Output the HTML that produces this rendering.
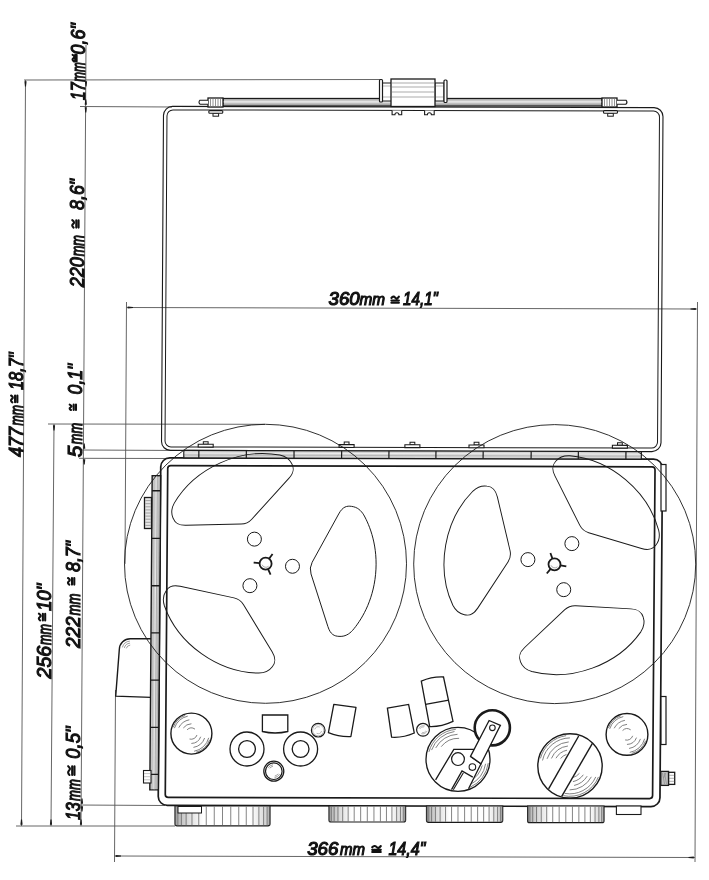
<!DOCTYPE html>
<html><head><meta charset="utf-8"><title>tape recorder drawing</title>
<style>
html,body{margin:0;padding:0;background:#fff;width:709px;height:880px;overflow:hidden}
svg{display:block;filter:grayscale(100%)}
text{font-family:"Liberation Sans",sans-serif;font-style:italic;font-weight:normal}
</style></head><body>
<svg width="709" height="880" viewBox="0 0 709 880">
<defs><linearGradient id="footg" x1="0" y1="0" x2="1" y2="0">
<stop offset="0" stop-color="#b0b0b0"/><stop offset="0.15" stop-color="#dedede"/><stop offset="0.3" stop-color="#fff"/><stop offset="0.8" stop-color="#fff"/><stop offset="0.95" stop-color="#d8d8d8"/><stop offset="1" stop-color="#c0c0c0"/>
</linearGradient></defs>
<rect width="709" height="880" fill="#fff"/>
<line x1="24" y1="80" x2="380" y2="79.5" stroke="#555" stroke-width="0.9"/>
<line x1="25.5" y1="80" x2="21.5" y2="826" stroke="#555" stroke-width="0.9"/>
<polygon points="26.60,81.20 24.40,81.20 24.95,86.50 26.05,86.50" fill="#1a1a1a"/>
<polygon points="20.40,824.80 22.60,824.80 22.05,819.50 20.95,819.50" fill="#1a1a1a"/>
<line x1="16" y1="826" x2="175" y2="826" stroke="#555" stroke-width="0.9"/>
<line x1="86" y1="45" x2="81" y2="826" stroke="#555" stroke-width="0.9"/>
<line x1="80" y1="106.5" x2="172" y2="107" stroke="#555" stroke-width="0.9"/>
<polygon points="87.10,81.20 84.90,81.20 85.45,86.50 86.55,86.50" fill="#1a1a1a"/>
<polygon points="84.70,104.80 86.90,104.80 86.35,99.50 85.25,99.50" fill="#1a1a1a"/>
<polygon points="86.90,107.20 84.70,107.20 85.25,112.50 86.35,112.50" fill="#1a1a1a"/>
<polygon points="83.10,448.80 85.30,448.80 84.75,443.50 83.65,443.50" fill="#1a1a1a"/>
<polygon points="85.30,459.20 83.10,459.20 83.65,464.50 84.75,464.50" fill="#1a1a1a"/>
<polygon points="80.90,803.80 83.10,803.80 82.55,798.50 81.45,798.50" fill="#1a1a1a"/>
<polygon points="83.10,806.20 80.90,806.20 81.45,811.50 82.55,811.50" fill="#1a1a1a"/>
<polygon points="79.90,824.80 82.10,824.80 81.55,819.50 80.45,819.50" fill="#1a1a1a"/>
<line x1="81" y1="450" x2="183" y2="450.5" stroke="#555" stroke-width="0.9"/>
<line x1="79" y1="458.3" x2="170" y2="458.5" stroke="#555" stroke-width="0.9"/>
<line x1="76" y1="805" x2="165" y2="805.5" stroke="#555" stroke-width="0.9"/>
<line x1="48" y1="424" x2="265" y2="424.3" stroke="#555" stroke-width="0.9"/>
<line x1="54" y1="424" x2="51" y2="826" stroke="#555" stroke-width="0.9"/>
<polygon points="55.10,425.20 52.90,425.20 53.45,430.50 54.55,430.50" fill="#1a1a1a"/>
<polygon points="49.90,824.80 52.10,824.80 51.55,819.50 50.45,819.50" fill="#1a1a1a"/>
<line x1="126.5" y1="302" x2="125" y2="564" stroke="#555" stroke-width="0.9"/>
<line x1="126.5" y1="307.5" x2="697" y2="309" stroke="#555" stroke-width="0.9"/>
<polygon points="127.70,306.40 127.70,308.60 133.00,308.05 133.00,306.95" fill="#1a1a1a"/>
<polygon points="695.80,310.10 695.80,307.90 690.50,308.45 690.50,309.55" fill="#1a1a1a"/>
<line x1="697.5" y1="302" x2="695" y2="862" stroke="#555" stroke-width="0.9"/>
<line x1="115.5" y1="690" x2="114.5" y2="862" stroke="#555" stroke-width="0.9"/>
<line x1="114.5" y1="856" x2="695" y2="857.5" stroke="#555" stroke-width="0.9"/>
<polygon points="115.70,854.90 115.70,857.10 121.00,856.55 121.00,855.45" fill="#1a1a1a"/>
<polygon points="693.80,858.60 693.80,856.40 688.50,856.95 688.50,858.05" fill="#1a1a1a"/>
<g transform="matrix(1,0.0025,-0.006,1,1.674,-1.030)">
<rect x="162.5" y="107" width="499.5" height="344" rx="9" fill="none" stroke="#1a1a1a" stroke-width="1.1"/>
<rect x="166" y="110.5" width="492.5" height="337" rx="6" fill="none" stroke="#1a1a1a" stroke-width="1.0"/>
</g>
<rect x="223" y="98.5" width="379" height="7.5" fill="#c8c8c8" stroke="#1a1a1a" stroke-width="1.3"/>
<line x1="223" y1="101.8" x2="602" y2="101.8" stroke="#eee" stroke-width="1.2"/>
<line x1="223" y1="104.3" x2="602" y2="104.3" stroke="#999" stroke-width="0.8"/>
<rect x="208" y="98" width="15" height="9" fill="#fff" stroke="#1a1a1a" stroke-width="1.3"/>
<line x1="210.5" y1="98.5" x2="210.5" y2="106.5" stroke="#777" stroke-width="0.8"/>
<line x1="213.0" y1="98.5" x2="213.0" y2="106.5" stroke="#777" stroke-width="0.8"/>
<line x1="215.5" y1="98.5" x2="215.5" y2="106.5" stroke="#777" stroke-width="0.8"/>
<line x1="218.0" y1="98.5" x2="218.0" y2="106.5" stroke="#777" stroke-width="0.8"/>
<line x1="220.5" y1="98.5" x2="220.5" y2="106.5" stroke="#777" stroke-width="0.8"/>
<rect x="602" y="98" width="15" height="9" fill="#fff" stroke="#1a1a1a" stroke-width="1.3"/>
<line x1="604.5" y1="98.5" x2="604.5" y2="106.5" stroke="#777" stroke-width="0.8"/>
<line x1="607.0" y1="98.5" x2="607.0" y2="106.5" stroke="#777" stroke-width="0.8"/>
<line x1="609.5" y1="98.5" x2="609.5" y2="106.5" stroke="#777" stroke-width="0.8"/>
<line x1="612.0" y1="98.5" x2="612.0" y2="106.5" stroke="#777" stroke-width="0.8"/>
<line x1="614.5" y1="98.5" x2="614.5" y2="106.5" stroke="#777" stroke-width="0.8"/>
<path d="M208,100.2 L200,100.2 Q198,102.2 200,104.2 L208,104.2" fill="#fff" stroke="#1a1a1a" stroke-width="1.1"/>
<path d="M617,100.2 L626,100.2 Q628,102.2 626,104.2 L617,104.2" fill="#fff" stroke="#1a1a1a" stroke-width="1.1"/>
<rect x="213.00" y="113.2" width="5.6" height="3" fill="#fff" stroke="#1a1a1a" stroke-width="1"/>
<rect x="208.80" y="110.6" width="14" height="2.6" rx="1" fill="#fff" stroke="#1a1a1a" stroke-width="1.1"/>
<rect x="607.70" y="113.2" width="5.6" height="3" fill="#fff" stroke="#1a1a1a" stroke-width="1"/>
<rect x="603.50" y="110.6" width="14" height="2.6" rx="1" fill="#fff" stroke="#1a1a1a" stroke-width="1.1"/>
<rect x="382.5" y="83" width="9" height="18" fill="#fff" stroke="#1a1a1a" stroke-width="1"/>
<rect x="435" y="83" width="9" height="18" fill="#fff" stroke="#1a1a1a" stroke-width="1"/>
<line x1="383" y1="86" x2="391" y2="86" stroke="#9a9a9a" stroke-width="0.7"/>
<line x1="383" y1="97" x2="391" y2="97" stroke="#9a9a9a" stroke-width="0.7"/>
<line x1="436" y1="86" x2="443" y2="86" stroke="#9a9a9a" stroke-width="0.7"/>
<line x1="436" y1="97" x2="443" y2="97" stroke="#9a9a9a" stroke-width="0.7"/>
<rect x="379.5" y="79.5" width="3" height="22.5" rx="1" fill="#fff" stroke="#1a1a1a" stroke-width="1.2"/>
<rect x="444" y="80" width="3" height="22.5" rx="1" fill="#fff" stroke="#1a1a1a" stroke-width="1.2"/>
<rect x="391" y="79" width="44" height="27.5" fill="#fff" stroke="#1a1a1a" stroke-width="1.3"/>
<line x1="392" y1="83" x2="434" y2="83" stroke="#888" stroke-width="0.7"/>
<line x1="392" y1="87" x2="434" y2="87" stroke="#888" stroke-width="0.7"/>
<line x1="392" y1="92" x2="434" y2="92" stroke="#888" stroke-width="0.7"/>
<line x1="392" y1="97" x2="434" y2="97" stroke="#888" stroke-width="0.7"/>
<path d="M392.09999999999997,110.6 L392.09999999999997,114.7 L394.9,114.7 A2,2 0 0 1 398.9,114.7 L401.7,114.7 L401.7,110.6" fill="#fff" stroke="#1a1a1a" stroke-width="1.1"/>
<path d="M424.59999999999997,110.6 L424.59999999999997,114.7 L427.4,114.7 A2,2 0 0 1 431.4,114.7 L434.2,114.7 L434.2,110.6" fill="#fff" stroke="#1a1a1a" stroke-width="1.1"/>
<path d="M151,638.7 L130.6,638.7 A11,11 0 0 0 119.3,649.6 L115.7,696.2 L151,697.4" fill="#fff" stroke="#1a1a1a" stroke-width="1.4"/>
<path d="M126.25,648.44 A4.5,4.5 0 0 1 130.21,645.12" fill="none" stroke="#777" stroke-width="0.7"/>
<path d="M124.32,647.92 A6.5,6.5 0 0 1 130.03,643.12" fill="none" stroke="#777" stroke-width="0.7"/>
<path d="M122.39,647.40 A8.5,8.5 0 0 1 129.86,641.13" fill="none" stroke="#777" stroke-width="0.7"/>
<g transform="matrix(1,0.0025,-0.0075,1,4.740,-1.025)">
<rect x="159.5" y="458.5" width="501.7" height="347.5" rx="9" fill="#fff" stroke="#1a1a1a" stroke-width="1.7"/>
<rect x="166.5" y="466.2" width="487.3" height="331.8" rx="3" fill="none" stroke="#1a1a1a" stroke-width="1.7"/>
<rect x="182.5" y="451" width="457.5" height="7.5" fill="#d4d4d4" stroke="#1a1a1a" stroke-width="1.2"/>
<line x1="183" y1="453.6" x2="639.5" y2="453.6" stroke="#f2f2f2" stroke-width="0.8"/>
<line x1="183" y1="455.6" x2="639.5" y2="455.6" stroke="#aaa" stroke-width="0.7"/>
<line x1="197.5" y1="451" x2="197.5" y2="458.5" stroke="#1a1a1a" stroke-width="1.2"/>
<line x1="245" y1="451" x2="245" y2="458.5" stroke="#1a1a1a" stroke-width="1.2"/>
<line x1="292.7" y1="451" x2="292.7" y2="458.5" stroke="#1a1a1a" stroke-width="1.2"/>
<line x1="340.3" y1="451" x2="340.3" y2="458.5" stroke="#1a1a1a" stroke-width="1.2"/>
<line x1="387.6" y1="451" x2="387.6" y2="458.5" stroke="#1a1a1a" stroke-width="1.2"/>
<line x1="434.6" y1="451" x2="434.6" y2="458.5" stroke="#1a1a1a" stroke-width="1.2"/>
<line x1="481.8" y1="451" x2="481.8" y2="458.5" stroke="#1a1a1a" stroke-width="1.2"/>
<line x1="529.8" y1="451" x2="529.8" y2="458.5" stroke="#1a1a1a" stroke-width="1.2"/>
<line x1="577" y1="451" x2="577" y2="458.5" stroke="#1a1a1a" stroke-width="1.2"/>
<line x1="624.6" y1="451" x2="624.6" y2="458.5" stroke="#1a1a1a" stroke-width="1.2"/>
<rect x="201.90" y="442.2" width="4.8" height="2.6" fill="#fff" stroke="#1a1a1a" stroke-width="1"/>
<rect x="196.80" y="444.8" width="15" height="2.8" fill="#fff" stroke="#1a1a1a" stroke-width="1.1"/>
<rect x="342.80" y="442.2" width="4.8" height="2.6" fill="#fff" stroke="#1a1a1a" stroke-width="1"/>
<rect x="337.70" y="444.8" width="15" height="2.8" fill="#fff" stroke="#1a1a1a" stroke-width="1.1"/>
<rect x="408.60" y="442.2" width="4.8" height="2.6" fill="#fff" stroke="#1a1a1a" stroke-width="1"/>
<rect x="403.50" y="444.8" width="15" height="2.8" fill="#fff" stroke="#1a1a1a" stroke-width="1.1"/>
<rect x="472.70" y="442.2" width="4.8" height="2.6" fill="#fff" stroke="#1a1a1a" stroke-width="1"/>
<rect x="467.60" y="444.8" width="15" height="2.8" fill="#fff" stroke="#1a1a1a" stroke-width="1.1"/>
<rect x="616.10" y="442.2" width="4.8" height="2.6" fill="#fff" stroke="#1a1a1a" stroke-width="1"/>
<rect x="611.00" y="444.8" width="15" height="2.8" fill="#fff" stroke="#1a1a1a" stroke-width="1.1"/>
<rect x="151" y="476.4" width="8.5" height="314.1" fill="#cfcfcf" stroke="#1a1a1a" stroke-width="1.4"/>
<line x1="155.2" y1="477" x2="155.2" y2="790" stroke="#eee" stroke-width="0.8"/>
<line x1="156.2" y1="477" x2="156.2" y2="790" stroke="#999" stroke-width="0.6"/>
<line x1="153" y1="477" x2="153" y2="790" stroke="#aaa" stroke-width="0.6"/>
<line x1="158" y1="477" x2="158" y2="790" stroke="#999" stroke-width="0.6"/>
<line x1="151" y1="491.4" x2="159.5" y2="491.4" stroke="#1a1a1a" stroke-width="1.3"/>
<line x1="151" y1="539" x2="159.5" y2="539" stroke="#1a1a1a" stroke-width="1.3"/>
<line x1="151" y1="586.4" x2="159.5" y2="586.4" stroke="#1a1a1a" stroke-width="1.3"/>
<line x1="151" y1="633.6" x2="159.5" y2="633.6" stroke="#1a1a1a" stroke-width="1.3"/>
<line x1="151" y1="680.7" x2="159.5" y2="680.7" stroke="#1a1a1a" stroke-width="1.3"/>
<line x1="151" y1="728" x2="159.5" y2="728" stroke="#1a1a1a" stroke-width="1.3"/>
<line x1="151" y1="775" x2="159.5" y2="775" stroke="#1a1a1a" stroke-width="1.3"/>
</g>
<rect x="144.5" y="497.5" width="7" height="31" fill="#e6e6e6" stroke="#1a1a1a" stroke-width="1.3"/>
<line x1="145.2" y1="500.6" x2="150.8" y2="500.6" stroke="#999" stroke-width="0.9"/>
<line x1="145.2" y1="503.7" x2="150.8" y2="503.7" stroke="#999" stroke-width="0.9"/>
<line x1="145.2" y1="506.8" x2="150.8" y2="506.8" stroke="#999" stroke-width="0.9"/>
<line x1="145.2" y1="509.9" x2="150.8" y2="509.9" stroke="#999" stroke-width="0.9"/>
<line x1="145.2" y1="513.0" x2="150.8" y2="513.0" stroke="#999" stroke-width="0.9"/>
<line x1="145.2" y1="516.1" x2="150.8" y2="516.1" stroke="#999" stroke-width="0.9"/>
<line x1="145.2" y1="519.2" x2="150.8" y2="519.2" stroke="#999" stroke-width="0.9"/>
<line x1="145.2" y1="522.3" x2="150.8" y2="522.3" stroke="#999" stroke-width="0.9"/>
<line x1="145.2" y1="525.4" x2="150.8" y2="525.4" stroke="#999" stroke-width="0.9"/>
<rect x="143.5" y="770.5" width="7.5" height="12.5" fill="#fff" stroke="#1a1a1a" stroke-width="1.1"/>
<line x1="144" y1="773.6" x2="150.5" y2="773.6" stroke="#999" stroke-width="0.6"/>
<line x1="144" y1="776.7" x2="150.5" y2="776.7" stroke="#999" stroke-width="0.6"/>
<line x1="144" y1="779.8" x2="150.5" y2="779.8" stroke="#999" stroke-width="0.6"/>
<rect x="661" y="464.5" width="5" height="46.5" fill="#fff" stroke="#1a1a1a" stroke-width="1.2"/>
<rect x="661" y="696.5" width="5" height="48" fill="#fff" stroke="#1a1a1a" stroke-width="1.2"/>
<rect x="668.5" y="772.3" width="6.2" height="12.1" fill="#fff" stroke="#1a1a1a" stroke-width="1.3"/>
<line x1="669" y1="775.3" x2="674.2" y2="775.3" stroke="#999" stroke-width="0.8"/>
<line x1="669" y1="778.3" x2="674.2" y2="778.3" stroke="#999" stroke-width="0.8"/>
<line x1="669" y1="781.3" x2="674.2" y2="781.3" stroke="#999" stroke-width="0.8"/>
<rect x="660.8" y="771.4" width="7.7" height="14" fill="#c2c2c2" stroke="#1a1a1a" stroke-width="1.3"/>
<path d="M662.5,773 L664.5,784 M664.5,773 L666.5,784 M663.5,778 L665.8,773" stroke="#888" stroke-width="0.7" fill="none"/>
<path d="M175,806 L270,806 L270,823.8 Q270,825.8 268,825.8 L177,825.8 Q175,825.8 175,823.8 Z" fill="url(#footg)" stroke="#1a1a1a" stroke-width="1.2"/>
<line x1="175.72" y1="806.5" x2="175.72" y2="825.3" stroke="#666" stroke-width="0.8"/>
<line x1="177.86" y1="806.5" x2="177.86" y2="825.3" stroke="#666" stroke-width="0.8"/>
<line x1="181.36" y1="806.5" x2="181.36" y2="825.3" stroke="#666" stroke-width="0.8"/>
<line x1="186.11" y1="806.5" x2="186.11" y2="825.3" stroke="#666" stroke-width="0.8"/>
<line x1="191.97" y1="806.5" x2="191.97" y2="825.3" stroke="#666" stroke-width="0.8"/>
<line x1="198.75" y1="806.5" x2="198.75" y2="825.3" stroke="#666" stroke-width="0.8"/>
<line x1="206.25" y1="806.5" x2="206.25" y2="825.3" stroke="#666" stroke-width="0.8"/>
<line x1="214.25" y1="806.5" x2="214.25" y2="825.3" stroke="#666" stroke-width="0.8"/>
<line x1="222.5" y1="806.5" x2="222.5" y2="825.3" stroke="#666" stroke-width="0.8"/>
<line x1="230.75" y1="806.5" x2="230.75" y2="825.3" stroke="#666" stroke-width="0.8"/>
<line x1="238.75" y1="806.5" x2="238.75" y2="825.3" stroke="#666" stroke-width="0.8"/>
<line x1="246.25" y1="806.5" x2="246.25" y2="825.3" stroke="#666" stroke-width="0.8"/>
<line x1="253.03" y1="806.5" x2="253.03" y2="825.3" stroke="#666" stroke-width="0.8"/>
<line x1="258.89" y1="806.5" x2="258.89" y2="825.3" stroke="#666" stroke-width="0.8"/>
<line x1="263.64" y1="806.5" x2="263.64" y2="825.3" stroke="#666" stroke-width="0.8"/>
<line x1="267.14" y1="806.5" x2="267.14" y2="825.3" stroke="#666" stroke-width="0.8"/>
<line x1="269.28" y1="806.5" x2="269.28" y2="825.3" stroke="#666" stroke-width="0.8"/>
<rect x="178" y="806.5" width="23.5" height="6.5" fill="#fff" stroke="#1a1a1a" stroke-width="1"/>
<path d="M329,806 L405.6,806 L405.6,820 Q405.6,822 403.6,822 L331,822 Q329,822 329,820 Z" fill="url(#footg)" stroke="#1a1a1a" stroke-width="1.2"/>
<line x1="329.58" y1="806.5" x2="329.58" y2="821.5" stroke="#666" stroke-width="0.8"/>
<line x1="331.31" y1="806.5" x2="331.31" y2="821.5" stroke="#666" stroke-width="0.8"/>
<line x1="334.13" y1="806.5" x2="334.13" y2="821.5" stroke="#666" stroke-width="0.8"/>
<line x1="337.96" y1="806.5" x2="337.96" y2="821.5" stroke="#666" stroke-width="0.8"/>
<line x1="342.68" y1="806.5" x2="342.68" y2="821.5" stroke="#666" stroke-width="0.8"/>
<line x1="348.15" y1="806.5" x2="348.15" y2="821.5" stroke="#666" stroke-width="0.8"/>
<line x1="354.2" y1="806.5" x2="354.2" y2="821.5" stroke="#666" stroke-width="0.8"/>
<line x1="360.65" y1="806.5" x2="360.65" y2="821.5" stroke="#666" stroke-width="0.8"/>
<line x1="367.3" y1="806.5" x2="367.3" y2="821.5" stroke="#666" stroke-width="0.8"/>
<line x1="373.95" y1="806.5" x2="373.95" y2="821.5" stroke="#666" stroke-width="0.8"/>
<line x1="380.4" y1="806.5" x2="380.4" y2="821.5" stroke="#666" stroke-width="0.8"/>
<line x1="386.45" y1="806.5" x2="386.45" y2="821.5" stroke="#666" stroke-width="0.8"/>
<line x1="391.92" y1="806.5" x2="391.92" y2="821.5" stroke="#666" stroke-width="0.8"/>
<line x1="396.64" y1="806.5" x2="396.64" y2="821.5" stroke="#666" stroke-width="0.8"/>
<line x1="400.47" y1="806.5" x2="400.47" y2="821.5" stroke="#666" stroke-width="0.8"/>
<line x1="403.29" y1="806.5" x2="403.29" y2="821.5" stroke="#666" stroke-width="0.8"/>
<line x1="405.02" y1="806.5" x2="405.02" y2="821.5" stroke="#666" stroke-width="0.8"/>
<path d="M426.5,806 L502.7,806 L502.7,820.3 Q502.7,822.3 500.7,822.3 L428.5,822.3 Q426.5,822.3 426.5,820.3 Z" fill="url(#footg)" stroke="#1a1a1a" stroke-width="1.2"/>
<line x1="427.08" y1="806.5" x2="427.08" y2="821.8" stroke="#666" stroke-width="0.8"/>
<line x1="428.8" y1="806.5" x2="428.8" y2="821.8" stroke="#666" stroke-width="0.8"/>
<line x1="431.6" y1="806.5" x2="431.6" y2="821.8" stroke="#666" stroke-width="0.8"/>
<line x1="435.41" y1="806.5" x2="435.41" y2="821.8" stroke="#666" stroke-width="0.8"/>
<line x1="440.11" y1="806.5" x2="440.11" y2="821.8" stroke="#666" stroke-width="0.8"/>
<line x1="445.55" y1="806.5" x2="445.55" y2="821.8" stroke="#666" stroke-width="0.8"/>
<line x1="451.57" y1="806.5" x2="451.57" y2="821.8" stroke="#666" stroke-width="0.8"/>
<line x1="457.98" y1="806.5" x2="457.98" y2="821.8" stroke="#666" stroke-width="0.8"/>
<line x1="464.6" y1="806.5" x2="464.6" y2="821.8" stroke="#666" stroke-width="0.8"/>
<line x1="471.22" y1="806.5" x2="471.22" y2="821.8" stroke="#666" stroke-width="0.8"/>
<line x1="477.63" y1="806.5" x2="477.63" y2="821.8" stroke="#666" stroke-width="0.8"/>
<line x1="483.65" y1="806.5" x2="483.65" y2="821.8" stroke="#666" stroke-width="0.8"/>
<line x1="489.09" y1="806.5" x2="489.09" y2="821.8" stroke="#666" stroke-width="0.8"/>
<line x1="493.79" y1="806.5" x2="493.79" y2="821.8" stroke="#666" stroke-width="0.8"/>
<line x1="497.6" y1="806.5" x2="497.6" y2="821.8" stroke="#666" stroke-width="0.8"/>
<line x1="500.4" y1="806.5" x2="500.4" y2="821.8" stroke="#666" stroke-width="0.8"/>
<line x1="502.12" y1="806.5" x2="502.12" y2="821.8" stroke="#666" stroke-width="0.8"/>
<path d="M527.6,806 L604,806 L604,820.7 Q604,822.7 602,822.7 L529.6,822.7 Q527.6,822.7 527.6,820.7 Z" fill="url(#footg)" stroke="#1a1a1a" stroke-width="1.2"/>
<line x1="528.18" y1="806.5" x2="528.18" y2="822.2" stroke="#666" stroke-width="0.8"/>
<line x1="529.9" y1="806.5" x2="529.9" y2="822.2" stroke="#666" stroke-width="0.8"/>
<line x1="532.72" y1="806.5" x2="532.72" y2="822.2" stroke="#666" stroke-width="0.8"/>
<line x1="536.54" y1="806.5" x2="536.54" y2="822.2" stroke="#666" stroke-width="0.8"/>
<line x1="541.25" y1="806.5" x2="541.25" y2="822.2" stroke="#666" stroke-width="0.8"/>
<line x1="546.7" y1="806.5" x2="546.7" y2="822.2" stroke="#666" stroke-width="0.8"/>
<line x1="552.73" y1="806.5" x2="552.73" y2="822.2" stroke="#666" stroke-width="0.8"/>
<line x1="559.17" y1="806.5" x2="559.17" y2="822.2" stroke="#666" stroke-width="0.8"/>
<line x1="565.8" y1="806.5" x2="565.8" y2="822.2" stroke="#666" stroke-width="0.8"/>
<line x1="572.43" y1="806.5" x2="572.43" y2="822.2" stroke="#666" stroke-width="0.8"/>
<line x1="578.87" y1="806.5" x2="578.87" y2="822.2" stroke="#666" stroke-width="0.8"/>
<line x1="584.9" y1="806.5" x2="584.9" y2="822.2" stroke="#666" stroke-width="0.8"/>
<line x1="590.35" y1="806.5" x2="590.35" y2="822.2" stroke="#666" stroke-width="0.8"/>
<line x1="595.06" y1="806.5" x2="595.06" y2="822.2" stroke="#666" stroke-width="0.8"/>
<line x1="598.88" y1="806.5" x2="598.88" y2="822.2" stroke="#666" stroke-width="0.8"/>
<line x1="601.7" y1="806.5" x2="601.7" y2="822.2" stroke="#666" stroke-width="0.8"/>
<line x1="603.42" y1="806.5" x2="603.42" y2="822.2" stroke="#666" stroke-width="0.8"/>
<rect x="616.4" y="806" width="24.6" height="8.5" fill="#fff" stroke="#1a1a1a" stroke-width="1.1"/>
<ellipse cx="265.5" cy="563.8000000000001" rx="141" ry="139.5" fill="none" stroke="#1a1a1a" stroke-width="0.9"/>
<path d="M46.2,5.86 A15,15 0 0 1 46.2,-5.86 L68,-56.5 C71.4,-64.5 75.5,-65.5 80,-65.3 C86,-65.2 90,-62 93,-58 C100,-48 110.5,-28 110.5,0 C110.5,28 100,48 93,58 C90,62 86,65.2 80,65.3 C75.5,65.5 71.4,64.5 68,56.5 Z" transform="translate(265.6,563.7) rotate(5.5)" fill="none" stroke="#1a1a1a" stroke-width="0.95"/>
<circle cx="292.48" cy="566.29" r="7" fill="none" stroke="#1a1a1a" stroke-width="1.0"/>
<line x1="268.09" y1="569.16" x2="270.58" y2="574.62" stroke="#1a1a1a" stroke-width="1.8"/>
<path d="M46.2,5.86 A15,15 0 0 1 46.2,-5.86 L68,-56.5 C71.4,-64.5 75.5,-65.5 80,-65.3 C86,-65.2 90,-62 93,-58 C100,-48 110.5,-28 110.5,0 C110.5,28 100,48 93,58 C90,62 86,65.2 80,65.3 C75.5,65.5 71.4,64.5 68,56.5 Z" transform="translate(265.6,563.7) rotate(125.5)" fill="none" stroke="#1a1a1a" stroke-width="0.95"/>
<circle cx="249.92" cy="585.68" r="7" fill="none" stroke="#1a1a1a" stroke-width="1.0"/>
<line x1="259.63" y1="563.12" x2="253.66" y2="562.55" stroke="#1a1a1a" stroke-width="1.8"/>
<path d="M46.2,5.86 A15,15 0 0 1 46.2,-5.86 L68,-56.5 C71.4,-64.5 75.5,-65.5 80,-65.3 C86,-65.2 90,-62 93,-58 C100,-48 110.5,-28 110.5,0 C110.5,28 100,48 93,58 C90,62 86,65.2 80,65.3 C75.5,65.5 71.4,64.5 68,56.5 Z" transform="translate(265.6,563.7) rotate(245.5)" fill="none" stroke="#1a1a1a" stroke-width="0.95"/>
<circle cx="254.40" cy="539.13" r="7" fill="none" stroke="#1a1a1a" stroke-width="1.0"/>
<line x1="269.08" y1="558.82" x2="272.57" y2="553.93" stroke="#1a1a1a" stroke-width="1.8"/>
<circle cx="265.6" cy="563.7" r="6" fill="none" stroke="#1a1a1a" stroke-width="1.8"/>
<path d="M262.1,564.7 A4,4 0 0 0 268.6,566.2" fill="none" stroke="#888" stroke-width="0.7"/>
<ellipse cx="554.7" cy="564.0999999999999" rx="141" ry="139.5" fill="none" stroke="#1a1a1a" stroke-width="0.9"/>
<path d="M46.2,5.86 A15,15 0 0 1 46.2,-5.86 L68,-56.5 C71.4,-64.5 75.5,-65.5 80,-65.3 C86,-65.2 90,-62 93,-58 C100,-48 110.5,-28 110.5,0 C110.5,28 100,48 93,58 C90,62 86,65.2 80,65.3 C75.5,65.5 71.4,64.5 68,56.5 Z" transform="translate(554.5,564.3) rotate(190)" fill="none" stroke="#1a1a1a" stroke-width="0.95"/>
<circle cx="527.91" cy="559.61" r="7" fill="none" stroke="#1a1a1a" stroke-width="1.0"/>
<line x1="560.41" y1="565.34" x2="566.32" y2="566.38" stroke="#1a1a1a" stroke-width="1.8"/>
<path d="M46.2,5.86 A15,15 0 0 1 46.2,-5.86 L68,-56.5 C71.4,-64.5 75.5,-65.5 80,-65.3 C86,-65.2 90,-62 93,-58 C100,-48 110.5,-28 110.5,0 C110.5,28 100,48 93,58 C90,62 86,65.2 80,65.3 C75.5,65.5 71.4,64.5 68,56.5 Z" transform="translate(554.5,564.3) rotate(310)" fill="none" stroke="#1a1a1a" stroke-width="0.95"/>
<circle cx="571.86" cy="543.62" r="7" fill="none" stroke="#1a1a1a" stroke-width="1.0"/>
<line x1="550.64" y1="568.90" x2="546.79" y2="573.49" stroke="#1a1a1a" stroke-width="1.8"/>
<path d="M46.2,5.86 A15,15 0 0 1 46.2,-5.86 L68,-56.5 C71.4,-64.5 75.5,-65.5 80,-65.3 C86,-65.2 90,-62 93,-58 C100,-48 110.5,-28 110.5,0 C110.5,28 100,48 93,58 C90,62 86,65.2 80,65.3 C75.5,65.5 71.4,64.5 68,56.5 Z" transform="translate(554.5,564.3) rotate(430)" fill="none" stroke="#1a1a1a" stroke-width="0.95"/>
<circle cx="563.73" cy="589.67" r="7" fill="none" stroke="#1a1a1a" stroke-width="1.0"/>
<line x1="552.45" y1="558.66" x2="550.40" y2="553.02" stroke="#1a1a1a" stroke-width="1.8"/>
<circle cx="554.5" cy="564.3" r="6" fill="none" stroke="#1a1a1a" stroke-width="1.8"/>
<path d="M551.0,565.3 A4,4 0 0 0 557.5,566.8" fill="none" stroke="#888" stroke-width="0.7"/>
<circle cx="191.4" cy="733.6" r="20.5" fill="none" stroke="#1a1a1a" stroke-width="1.4"/>
<path d="M187.34,729.54 A5.74,5.74 0 0 1 194.69,728.90 M183.54,727.68 A9.84,9.84 0 0 1 191.06,723.77 M178.98,727.27 A13.94,13.94 0 0 1 188.98,719.87 M174.54,727.79 A17.84,17.84 0 0 1 187.39,716.22 M173.29,727.01 A19.27,19.27 0 0 1 184.81,715.49 M196.86,735.37 A5.74,5.74 0 0 1 189.91,739.14 M200.59,737.13 A9.84,9.84 0 0 1 191.74,743.43 M204.50,738.37 A13.94,13.94 0 0 1 193.82,747.33 M208.63,738.22 A17.84,17.84 0 0 1 194.50,751.16 M209.51,740.19 A19.27,19.27 0 0 1 196.39,752.21" fill="none" stroke="#6a6a6a" stroke-width="0.85" stroke-linecap="round"/>
<circle cx="627" cy="734.4" r="20.9" fill="none" stroke="#1a1a1a" stroke-width="1.4"/>
<path d="M622.86,730.26 A5.85,5.85 0 0 1 630.36,729.61 M618.99,728.36 A10.03,10.03 0 0 1 626.65,724.37 M614.34,727.95 A14.21,14.21 0 0 1 624.53,720.40 M609.81,728.48 A18.18,18.18 0 0 1 622.91,716.68 M608.54,727.68 A19.65,19.65 0 0 1 620.28,715.94 M632.57,736.21 A5.85,5.85 0 0 1 625.49,740.05 M636.37,738.00 A10.03,10.03 0 0 1 627.35,744.43 M640.35,739.26 A14.21,14.21 0 0 1 629.47,748.40 M644.56,739.11 A18.18,18.18 0 0 1 630.16,752.31 M645.46,741.12 A19.65,19.65 0 0 1 632.08,753.38" fill="none" stroke="#6a6a6a" stroke-width="0.85" stroke-linecap="round"/>
<circle cx="247" cy="749" r="17" fill="none" stroke="#1a1a1a" stroke-width="1.3"/>
<circle cx="247" cy="749" r="8.4" fill="none" stroke="#1a1a1a" stroke-width="1.3"/>
<circle cx="300.6" cy="749" r="17" fill="none" stroke="#1a1a1a" stroke-width="1.3"/>
<circle cx="300.6" cy="749" r="8.4" fill="none" stroke="#1a1a1a" stroke-width="1.3"/>
<circle cx="273.8" cy="771.2" r="10" fill="none" stroke="#1a1a1a" stroke-width="1.3"/>
<circle cx="273.8" cy="771.2" r="8.3" fill="none" stroke="#1a1a1a" stroke-width="1.2"/>
<path d="M268.48,767.47 A6.50,6.50 0 0 1 272.67,764.80 M269.97,767.99 A5.00,5.00 0 0 1 272.51,766.37 M279.43,774.45 A6.50,6.50 0 0 1 274.93,777.60 M277.90,774.07 A5.00,5.00 0 0 1 275.09,776.03" fill="none" stroke="#888" stroke-width="0.8" stroke-linecap="round"/>
<path d="M262.4,715 L287.8,715 L287.8,731.5 Q275,734.5 262.4,731.5 Z" fill="none" stroke="#1a1a1a" stroke-width="1.3"/>
<circle cx="318.2" cy="730.2" r="6.8" fill="none" stroke="#1a1a1a" stroke-width="1.2"/>
<circle cx="318.2" cy="730.2" r="5.6" fill="none" stroke="#999" stroke-width="0.7"/>
<path d="M314.91,729.00 A3.50,3.50 0 0 1 319.40,726.91 M321.49,731.40 A3.50,3.50 0 0 1 317.00,733.49" fill="none" stroke="#999" stroke-width="0.7" stroke-linecap="round"/>
<path d="M333.8,704.3 L356,707.4 L350.9,736.5 Q339,737 328.4,732.6 Z" fill="none" stroke="#1a1a1a" stroke-width="1.3" stroke-linejoin="round"/>
<path d="M387.4,708.2 L408.6,704.4 L414.3,733 Q403,738 391.6,737.2 Z" fill="none" stroke="#1a1a1a" stroke-width="1.3"/>
<path d="M421.3,681.2 Q432,676.5 443.5,677 L453,721.4 Q441,727 429.7,726.6 Z" fill="none" stroke="#1a1a1a" stroke-width="1.3"/>
<line x1="425.5" y1="704.4" x2="448.8" y2="700.2" stroke="#1a1a1a" stroke-width="1.2"/>
<circle cx="423" cy="729.8" r="6.4" fill="none" stroke="#1a1a1a" stroke-width="1.2"/>
<path d="M419.05,728.36 A4.20,4.20 0 0 1 424.44,725.85 M420.40,728.30 A3.00,3.00 0 0 1 423.52,726.85 M426.95,731.24 A4.20,4.20 0 0 1 421.56,733.75 M425.60,731.30 A3.00,3.00 0 0 1 422.48,732.75" fill="none" stroke="#999" stroke-width="0.7" stroke-linecap="round"/>
<circle cx="458" cy="759.3" r="32" fill="#fff" stroke="#1a1a1a" stroke-width="1.3"/>
<path d="M429.02,751.54 A30.00,30.00 0 0 1 455.39,729.41 M431.69,749.72 A28.00,28.00 0 0 1 454.10,731.57 M435.93,747.56 A25.00,25.00 0 0 1 457.13,734.32 M441.45,746.37 A21.00,21.00 0 0 1 458.73,738.31 M488.20,763.54 A30.50,30.50 0 0 1 470.41,787.16 M485.57,764.16 A28.00,28.00 0 0 1 470.27,784.47 M482.15,765.77 A25.00,25.00 0 0 1 469.74,781.37" fill="none" stroke="#6a6a6a" stroke-width="0.85" stroke-linecap="round"/>
<circle cx="492.3" cy="727.8" r="17.6" fill="#fff" stroke="#1a1a1a" stroke-width="2.6"/>
<path d="M435.6,779.9 L453.8,749.3 L474.6,749.3 L470.5,756.4 L481,763.8 L468.5,788.8 L451.5,789.8 Z" fill="#fff" stroke="none"/>
<path d="M435.6,779.9 L453.8,749.3 L474.6,749.3 M470.5,756.4 L481,763.8 L468.5,788.8" fill="none" stroke="#1a1a1a" stroke-width="1.3" stroke-linejoin="miter"/>
<path d="M472.8,777.1 L462,770.9 L451.5,789.6" fill="none" stroke="#1a1a1a" stroke-width="1.3"/>
<line x1="463.4" y1="772.8" x2="453.3" y2="789.8" stroke="#1a1a1a" stroke-width="1.1"/>
<path d="M489.1,720.5 L500.4,725.4 L481,763.8 L470.5,756.4 Z" fill="#fff" stroke="#1a1a1a" stroke-width="1.3"/>
<circle cx="492.4" cy="727.8" r="2.8" fill="none" stroke="#1a1a1a" stroke-width="1.1"/>
<circle cx="458" cy="759.1" r="6.4" fill="none" stroke="#1a1a1a" stroke-width="1.2"/>
<circle cx="472.4" cy="767.1" r="3.3" fill="none" stroke="#1a1a1a" stroke-width="1.1"/>
<circle cx="570" cy="765.9" r="32.2" fill="none" stroke="#1a1a1a" stroke-width="1.4"/>
<path d="M560.81,758.19 A12.00,12.00 0 0 1 566.09,754.55 M556.14,757.90 A16.00,16.00 0 0 1 566.67,750.25 M551.59,758.09 A20.00,20.00 0 0 1 567.56,746.05 M547.17,758.48 A24.00,24.00 0 0 1 568.33,741.96 M542.61,760.08 A28.00,28.00 0 0 1 569.51,737.90 M540.54,758.01 A30.50,30.50 0 0 1 565.76,735.70 M579.19,773.61 A12.00,12.00 0 0 1 573.11,777.49 M583.11,775.08 A16.00,16.00 0 0 1 573.33,781.55 M586.96,776.50 A20.00,20.00 0 0 1 574.50,785.39 M591.19,777.17 A24.00,24.00 0 0 1 570.00,789.90 M595.58,777.29 A28.00,28.00 0 0 1 565.14,793.47 M598.28,777.33 A30.50,30.50 0 0 1 563.66,795.73" fill="none" stroke="#6a6a6a" stroke-width="0.85" stroke-linecap="round"/>
<line x1="578.7" y1="736" x2="548.6" y2="788.9" stroke="#1a1a1a" stroke-width="1.4"/>
<line x1="592.4" y1="743.4" x2="561.7" y2="796.3" stroke="#1a1a1a" stroke-width="1.4"/>
<g fill="#111" stroke="#111" stroke-width="1.15">
<g transform="translate(84.6,0) rotate(-90)">
<text x="-100.20" y="0" font-size="21" textLength="17.80" lengthAdjust="spacingAndGlyphs">17</text>
<text x="-81.80" y="0" font-size="18.5" textLength="19.40" lengthAdjust="spacingAndGlyphs">mm</text>
<path d="M-61.40,-10.70 Q-59.64,-13.20 -58.15,-11.10 T-54.90,-12.00 M-61.40,-9.40 L-54.90,-9.40 M-61.40,-8.00 L-54.90,-8.00" fill="none" stroke="#111" stroke-width="2.1" stroke-linecap="round"/>
<text x="-54.40" y="0" font-size="21" textLength="31.30" lengthAdjust="spacingAndGlyphs">0,6&quot;</text>
</g>
<g transform="translate(84.4,0) rotate(-90)">
<text x="-287.30" y="0" font-size="21" textLength="30.20" lengthAdjust="spacingAndGlyphs">220</text>
<text x="-256.30" y="0" font-size="18.5" textLength="21.30" lengthAdjust="spacingAndGlyphs">mm</text>
<path d="M-227.60,-10.82 Q-225.60,-13.32 -223.90,-11.22 T-220.20,-12.12 M-227.60,-8.12 L-220.20,-8.12 M-227.60,-5.82 L-220.20,-5.82" fill="none" stroke="#111" stroke-width="2.1" stroke-linecap="round"/>
<text x="-209.90" y="0" font-size="21" textLength="31.00" lengthAdjust="spacingAndGlyphs">8,6&quot;</text>
</g>
<g transform="translate(81.8,0) rotate(-90)">
<text x="-457.20" y="0" font-size="21" textLength="11.60" lengthAdjust="spacingAndGlyphs">5</text>
<text x="-444.20" y="0" font-size="18.5" textLength="21.20" lengthAdjust="spacingAndGlyphs">mm</text>
<path d="M-410.00,-10.82 Q-408.54,-13.32 -407.30,-11.22 T-404.60,-12.12 M-410.00,-8.12 L-404.60,-8.12 M-410.00,-5.82 L-404.60,-5.82" fill="none" stroke="#111" stroke-width="2.1" stroke-linecap="round"/>
<text x="-394.40" y="0" font-size="21" textLength="30.70" lengthAdjust="spacingAndGlyphs">0,1&quot;</text>
</g>
<g transform="translate(23.2,0) rotate(-90)">
<text x="-457.00" y="0" font-size="21" textLength="30.10" lengthAdjust="spacingAndGlyphs">477</text>
<text x="-425.50" y="0" font-size="18.5" textLength="20.50" lengthAdjust="spacingAndGlyphs">mm</text>
<path d="M-402.30,-10.82 Q-400.46,-13.32 -398.90,-11.22 T-395.50,-12.12 M-402.30,-8.12 L-395.50,-8.12 M-402.30,-5.82 L-395.50,-5.82" fill="none" stroke="#111" stroke-width="2.1" stroke-linecap="round"/>
<text x="-390.00" y="0" font-size="21" textLength="37.50" lengthAdjust="spacingAndGlyphs">18,7&quot;</text>
</g>
<g transform="translate(51,0) rotate(-90)">
<text x="-678.50" y="0" font-size="21" textLength="32.70" lengthAdjust="spacingAndGlyphs">256</text>
<text x="-645.00" y="0" font-size="18.5" textLength="21.10" lengthAdjust="spacingAndGlyphs">mm</text>
<path d="M-620.50,-10.82 Q-618.66,-13.32 -617.10,-11.22 T-613.70,-12.12 M-620.50,-8.12 L-613.70,-8.12 M-620.50,-5.82 L-613.70,-5.82" fill="none" stroke="#111" stroke-width="2.1" stroke-linecap="round"/>
<text x="-611.00" y="0" font-size="21" textLength="27.30" lengthAdjust="spacingAndGlyphs">10&quot;</text>
</g>
<g transform="translate(80.1,0) rotate(-90)">
<text x="-648.10" y="0" font-size="21" textLength="31.80" lengthAdjust="spacingAndGlyphs">222</text>
<text x="-615.60" y="0" font-size="18.5" textLength="22.10" lengthAdjust="spacingAndGlyphs">mm</text>
<path d="M-584.60,-10.82 Q-582.82,-13.32 -581.30,-11.22 T-578.00,-12.12 M-584.60,-8.12 L-578.00,-8.12 M-584.60,-5.82 L-578.00,-5.82" fill="none" stroke="#111" stroke-width="2.1" stroke-linecap="round"/>
<text x="-572.00" y="0" font-size="21" textLength="31.00" lengthAdjust="spacingAndGlyphs">8,7&quot;</text>
</g>
<g transform="translate(80.3,0) rotate(-90)">
<text x="-820.10" y="0" font-size="21" textLength="17.70" lengthAdjust="spacingAndGlyphs">13</text>
<text x="-801.00" y="0" font-size="18.5" textLength="21.80" lengthAdjust="spacingAndGlyphs">mm</text>
<path d="M-775.00,-10.82 Q-772.62,-13.32 -770.60,-11.22 T-766.20,-12.12 M-775.00,-8.12 L-766.20,-8.12 M-775.00,-5.82 L-766.20,-5.82" fill="none" stroke="#111" stroke-width="2.1" stroke-linecap="round"/>
<text x="-758.70" y="0" font-size="21" textLength="32.10" lengthAdjust="spacingAndGlyphs">0,5&quot;</text>
</g>
<g transform="translate(0,305.2)">
<text x="328.60" y="0" font-size="18.3" textLength="31.10" lengthAdjust="spacingAndGlyphs">360</text>
<text x="359.60" y="0" font-size="16.5" textLength="25.50" lengthAdjust="spacingAndGlyphs">mm</text>
<path d="M391.40,-7.20 Q393.42,-9.70 395.15,-7.60 T398.90,-8.50 M391.40,-4.66 L398.90,-4.66 M391.40,-2.48 L398.90,-2.48" fill="none" stroke="#111" stroke-width="2.1" stroke-linecap="round"/>
<text x="403.00" y="0" font-size="18.3" textLength="35.00" lengthAdjust="spacingAndGlyphs">14,1&quot;</text>
</g>
<g transform="translate(0,854.5)">
<text x="307.20" y="0" font-size="18.3" textLength="31.30" lengthAdjust="spacingAndGlyphs">366</text>
<text x="340.00" y="0" font-size="16.5" textLength="25.00" lengthAdjust="spacingAndGlyphs">mm</text>
<path d="M372.20,-7.20 Q374.52,-9.70 376.50,-7.60 T380.80,-8.50 M372.20,-4.66 L380.80,-4.66 M372.20,-2.48 L380.80,-2.48" fill="none" stroke="#111" stroke-width="2.1" stroke-linecap="round"/>
<text x="388.40" y="0" font-size="18.3" textLength="37.00" lengthAdjust="spacingAndGlyphs">14,4&quot;</text>
</g>
</g>
</svg>
</body></html>
